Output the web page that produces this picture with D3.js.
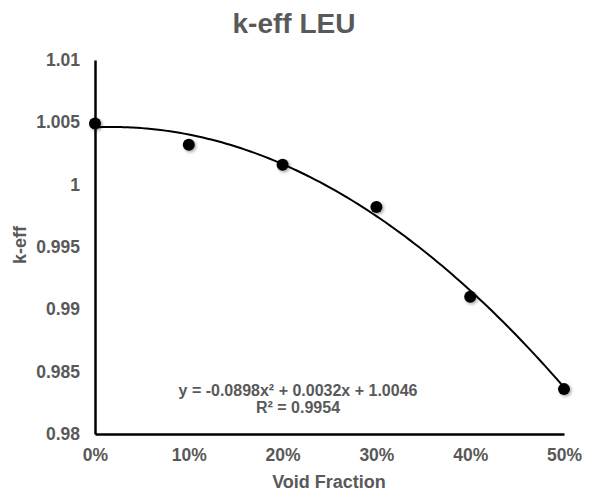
<!DOCTYPE html>
<html>
<head>
<meta charset="utf-8">
<script src="https://cdn.jsdelivr.net/npm/d3@7"></script>
<style>
  html, body { margin: 0; padding: 0; background: #fff; }
  svg { display: block; font-family: "Liberation Sans", Arial, sans-serif; }
</style>
</head>
<body>
<svg id="chart" width="589" height="492"></svg>
<script>
// Void fraction (fraction of 1) and measured k-eff
const voidFraction = [0, 0.1, 0.2, 0.3, 0.4, 0.5];
const keff = [1.0049, 1.0032, 1.0016, 0.9982, 0.9910, 0.9836];

// Quadratic trend line coefficients: y = a x^2 + b x + c
const trendCoef = [-0.0898, 0.0032, 1.0046];
const trendLabel = "y = -0.0898x² + 0.0032x + 1.0046";
const r2Label = "R² = 0.9954";

const yTicks = [0.98, 0.985, 0.99, 0.995, 1, 1.005, 1.01];
const xTicks = [0, 0.1, 0.2, 0.3, 0.4, 0.5];

const svg = d3.select("#chart");
const textColor = "#595959";
const fontFamily = "Liberation Sans, Arial, sans-serif";

const x = d3.scaleLinear().domain([0, 0.5]).range([95, 564]);
const y = d3.scaleLinear().domain([0.98, 1.01]).range([434, 60]);

// soft shadow under the markers
const defs = svg.append("defs");
const f = defs.append("filter").attr("id", "shadow")
  .attr("x", "-50%").attr("y", "-50%").attr("width", "200%").attr("height", "200%");
f.append("feDropShadow").attr("dx", 1.5).attr("dy", 1.5)
  .attr("stdDeviation", 1.5).attr("flood-color", "#000").attr("flood-opacity", 0.35);

// Title
svg.append("text")
  .attr("x", 294).attr("y", 33)
  .attr("text-anchor", "middle")
  .attr("font-size", 28).attr("font-weight", "bold")
  .attr("fill", textColor)
  .text("k-eff LEU");

// Y axis
const yAxis = d3.axisLeft(y).tickValues(yTicks).tickSize(0).tickPadding(15)
  .tickFormat(d => d3.format("")(+d.toFixed(3)));
const gy = svg.append("g").attr("transform", `translate(${x(0)},0)`).call(yAxis);
gy.select(".domain").attr("stroke", "#000").attr("stroke-width", 2.5);
gy.selectAll("text").attr("font-size", 17.5).attr("font-weight", "bold")
  .attr("fill", textColor).attr("font-family", fontFamily);

// X axis
const xAxis = d3.axisBottom(x).tickValues(xTicks).tickSize(0).tickPadding(15)
  .tickFormat(d3.format(".0%"));
const gx = svg.append("g").attr("transform", `translate(0,${y(0.98)})`).call(xAxis);
gx.select(".domain").attr("stroke", "#000").attr("stroke-width", 2.5);
gx.selectAll("text").attr("font-size", 17.5).attr("font-weight", "bold")
  .attr("fill", textColor).attr("font-family", fontFamily);

// Axis titles
svg.append("text")
  .attr("x", 329).attr("y", 488)
  .attr("text-anchor", "middle")
  .attr("font-size", 18).attr("font-weight", "bold")
  .attr("fill", textColor)
  .text("Void Fraction");

svg.append("text")
  .attr("transform", "translate(26,245) rotate(-90)")
  .attr("text-anchor", "middle")
  .attr("font-size", 18).attr("font-weight", "bold")
  .attr("fill", textColor)
  .text("k-eff");

// Trend line from the stated quadratic fit
const trendPts = d3.range(0, 0.5001, 0.005).map(v => [v, trendCoef[0] * v * v + trendCoef[1] * v + trendCoef[2]]);
svg.append("path")
  .datum(trendPts)
  .attr("fill", "none")
  .attr("stroke", "#000")
  .attr("stroke-width", 2)
  .attr("d", d3.line().x(d => x(d[0])).y(d => y(d[1])).curve(d3.curveMonotoneX));

// Markers
svg.append("g").selectAll("circle")
  .data(voidFraction.map((v, i) => [v, keff[i]]))
  .join("circle")
  .attr("cx", d => x(d[0]))
  .attr("cy", d => y(d[1]))
  .attr("r", 6)
  .attr("fill", "#000")
  .attr("filter", "url(#shadow)");

// Trend equation label
const eq = svg.append("text")
  .attr("text-anchor", "middle")
  .attr("font-size", 16).attr("font-weight", "bold")
  .attr("fill", textColor);
eq.append("tspan").attr("x", 298).attr("y", 396).text(trendLabel);
eq.append("tspan").attr("x", 298).attr("y", 413).text(r2Label);
</script>
</body>
</html>
